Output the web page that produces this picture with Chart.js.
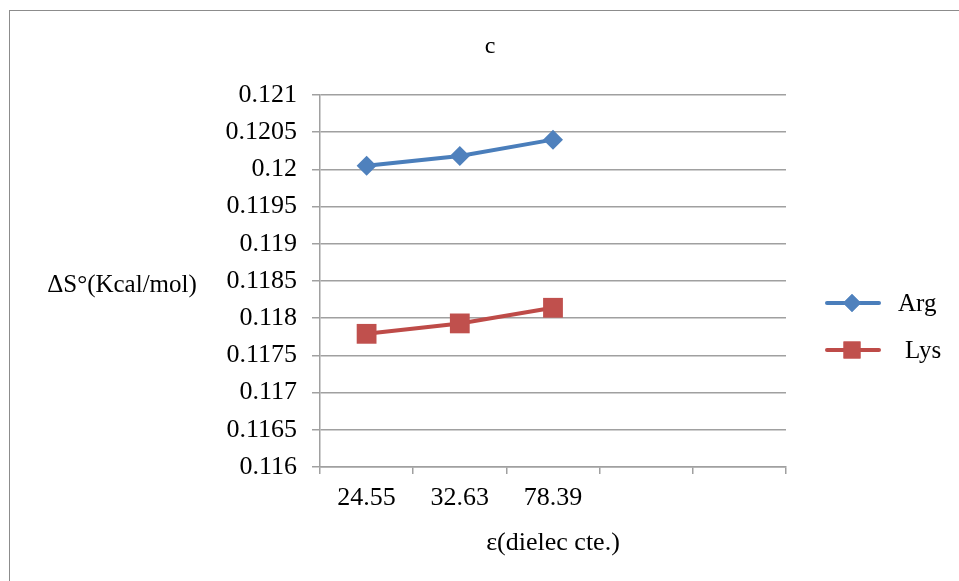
<!DOCTYPE html>
<html>
<head>
<meta charset="utf-8">
<script src="https://cdn.jsdelivr.net/npm/chart.js@4.4.1/dist/chart.umd.min.js"></script>
<style>
  html, body { margin: 0; padding: 0; background: #fff; }
  #wrap { width: 959px; height: 581px; position: relative; }
</style>
</head>
<body>
<div id="wrap"><canvas id="chartC" width="959" height="581"></canvas></div>
<script>
// data
const categories = ["24.55", "32.63", "78.39", "", ""];
const argValues = [0.12005, 0.12018, 0.1204];
const lysValues = [0.11779, 0.11793, 0.11814];
const yTicks = { min: 0.116, max: 0.121, step: 0.0005 };

const FONT = "'Liberation Serif', 'Times New Roman', serif";
const gridColor = "#a0a0a0";

// frame, title "c", horizontal y title and the legend
const extrasPlugin = {
    id: "extras",
    beforeDraw(chart) {
        const ctx = chart.ctx;
        ctx.save();
        ctx.strokeStyle = "#8c8c8c";
        ctx.lineWidth = 1;
        ctx.strokeRect(9.5, 10.5, 1000, 700);
        ctx.restore();
    },
    afterDraw(chart) {
        const ctx = chart.ctx;
        const area = chart.chartArea;
        ctx.save();
        ctx.fillStyle = "#000";
        ctx.textAlign = "center";
        ctx.textBaseline = "middle";
        ctx.font = "24px " + FONT;
        ctx.fillText("c", 490, 47);
        ctx.font = "25px " + FONT;
        ctx.fillText("\u0394S\u00b0(Kcal/mol)", 122, (area.top + area.bottom) / 2 + 4);

        // legend: line with marker, then label
        let y = 303;
        chart.data.datasets.forEach(ds => {
            ctx.strokeStyle = ds.borderColor;
            ctx.lineWidth = 4;
            ctx.lineCap = "round";
            ctx.beginPath();
            ctx.moveTo(827, y);
            ctx.lineTo(879, y);
            ctx.stroke();
            ctx.fillStyle = ds.pointBackgroundColor;
            Chart.helpers.drawPoint(ctx, {
                pointStyle: ds.pointStyle,
                radius: ds.pointStyle === "rect" ? 12 : 9,
                borderWidth: 0,
                rotation: 0
            }, 852, y);
            ctx.fill();
            ctx.fillStyle = "#000";
            ctx.textAlign = "left";
            ctx.fillText(ds.label, ds.label === "Lys" ? 905 : 898, y + 1);
            y += 47;
        });
        ctx.restore();
    }
};

new Chart("chartC", {
    type: "line",
    data: {
        labels: categories,
        datasets: [
            {
                label: "Arg",
                data: argValues,
                borderColor: "#4a7ebb",
                backgroundColor: "#4f81bd",
                pointBackgroundColor: "#4f81bd",
                pointBorderWidth: 0,
                pointStyle: "rectRot",
                pointRadius: 10,
                borderWidth: 4,
                fill: false,
            },
            {
                label: "Lys",
                data: lysValues,
                borderColor: "#be4b48",
                backgroundColor: "#c0504d",
                pointBackgroundColor: "#c0504d",
                pointBorderWidth: 0,
                pointStyle: "rect",
                pointRadius: 14,
                borderWidth: 4,
                fill: false,
            }
        ]
    },
    options: {
        responsive: false,
        animation: false,
        layout: { padding: { left: 0, right: 173, top: 95, bottom: 0 } },
        plugins: {
            legend: { display: false },
            tooltip: { enabled: false },
            title: { display: false }
        },
        scales: {
            x: {
                offset: true,
                afterFit: (scale) => { scale.height = 114; },
                grid: {
                    offset: true,
                    drawOnChartArea: false,
                    drawTicks: true,
                    tickLength: 7,
                    color: gridColor,
                    lineWidth: 1.5
                },
                border: { display: true, color: gridColor, width: 1.5 },
                ticks: {
                    color: "#000",
                    padding: 9,
                    maxRotation: 0,
                    autoSkip: false,
                    font: { family: FONT, size: 26 }
                },
                title: {
                    display: true,
                    text: "\u03b5(dielec cte.)",
                    color: "#000",
                    font: { family: FONT, size: 26 },
                    padding: { top: 0, bottom: 22 }
                }
            },
            y: {
                min: yTicks.min,
                max: yTicks.max,
                afterFit: (scale) => { scale.width = 320; },
                grid: {
                    color: gridColor,
                    lineWidth: 1.5,
                    tickLength: 8
                },
                border: { display: true, color: gridColor, width: 1.5 },
                ticks: {
                    stepSize: yTicks.step,
                    color: "#000",
                    padding: 15,
                    font: { family: FONT, size: 26 },
                    callback: (v) => String(parseFloat(Number(v).toFixed(4)))
                }
            }
        }
    },
    plugins: [extrasPlugin]
});
</script>
</body>
</html>
